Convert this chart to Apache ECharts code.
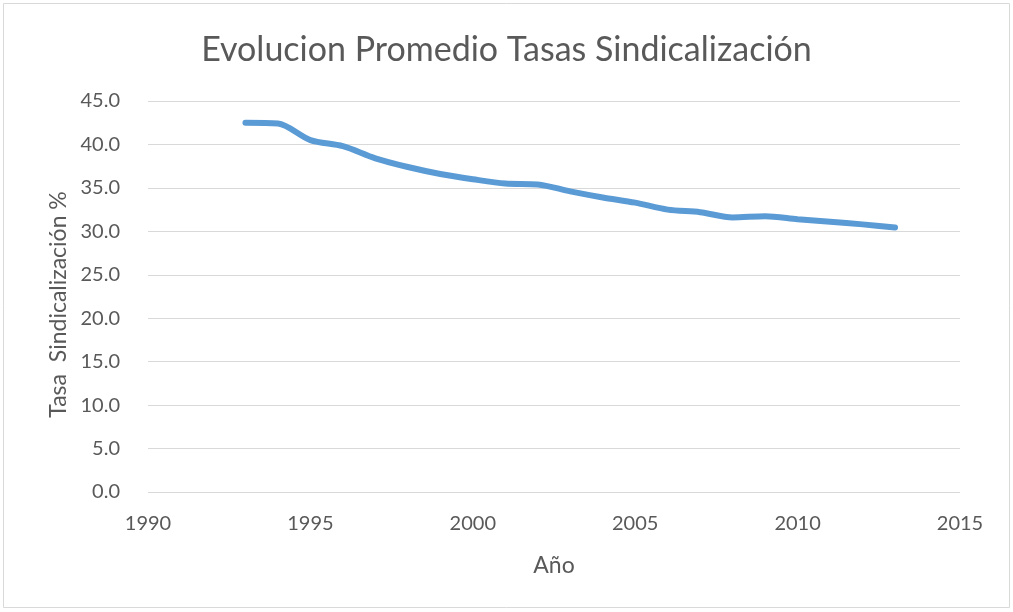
<!DOCTYPE html>
<html>
<head>
<meta charset="utf-8">
<script src="https://cdn.jsdelivr.net/npm/echarts@6/dist/echarts.min.js"></script>
<style>
  html, body { margin: 0; padding: 0; background: #fff; }
  #chart { width: 1013px; height: 612px; }
</style>
</head>
<body>
<div id="chart"></div>
<script>
  const years = [1993, 1994, 1995, 1996, 1997, 1998, 1999, 2000, 2001, 2002, 2003,
    2004, 2005, 2006, 2007, 2008, 2009, 2010, 2011, 2012, 2013];
  const tasas = [42.5, 42.4, 40.5, 39.8, 38.4, 37.4, 36.6, 36.0, 35.5, 35.4, 34.6,
    33.9, 33.3, 32.5, 32.2, 31.6, 31.75, 31.4, 31.1, 30.8, 30.45];

  const myChart = echarts.init(document.getElementById('chart'));
  const grey = '#595959';
  const font = "Lato, 'Open Sans', sans-serif";

  const option = {
    backgroundColor: '#fff',
    textStyle: { fontFamily: font },
    graphic: [{
      type: 'rect',
      shape: { x: 3.5, y: 3.5, width: 1006, height: 604 },
      style: { fill: 'none', stroke: '#d9d9d9', lineWidth: 1 },
    }],
    title: {
      text: 'Evolucion Promedio Tasas Sindicalización',
      left: 'center',
      top: 28,
      textStyle: { color: grey, fontSize: 34, fontWeight: 'normal', fontFamily: font },
    },
    grid: { left: 148, right: 53, top: 101, bottom: 120 },
    xAxis: {
      type: 'value',
      min: 1990,
      max: 2015,
      interval: 5,
      name: 'Año',
      nameLocation: 'middle',
      nameGap: 62,
      nameTextStyle: { color: grey, fontSize: 23 },
      axisLine: { show: false },
      axisTick: { show: false },
      splitLine: { show: false },
      axisLabel: { color: grey, fontSize: 20, margin: 22, formatter: (v) => String(v) },
    },
    yAxis: {
      type: 'value',
      min: 0,
      max: 45,
      interval: 5,
      name: 'Tasa  Sindicalización %',
      nameLocation: 'middle',
      nameGap: 78,
      nameTextStyle: { color: grey, fontSize: 23, padding: [0, 0, 0, -16] },
      axisLine: { show: false },
      axisTick: { show: false },
      splitLine: { lineStyle: { color: '#d9d9d9', width: 1 } },
      axisLabel: {
        color: grey,
        fontSize: 20,
        margin: 28,
        formatter: (v) => v.toFixed(1),
      },
    },
    series: [{
      type: 'line',
      data: years.map((y, i) => [y, tasas[i]]),
      smooth: 0.3,
      symbol: 'none',
      lineStyle: { color: '#5b9bd5', width: 6, cap: 'round' },
    }],
  };
  myChart.setOption(option);
</script>
</body>
</html>
